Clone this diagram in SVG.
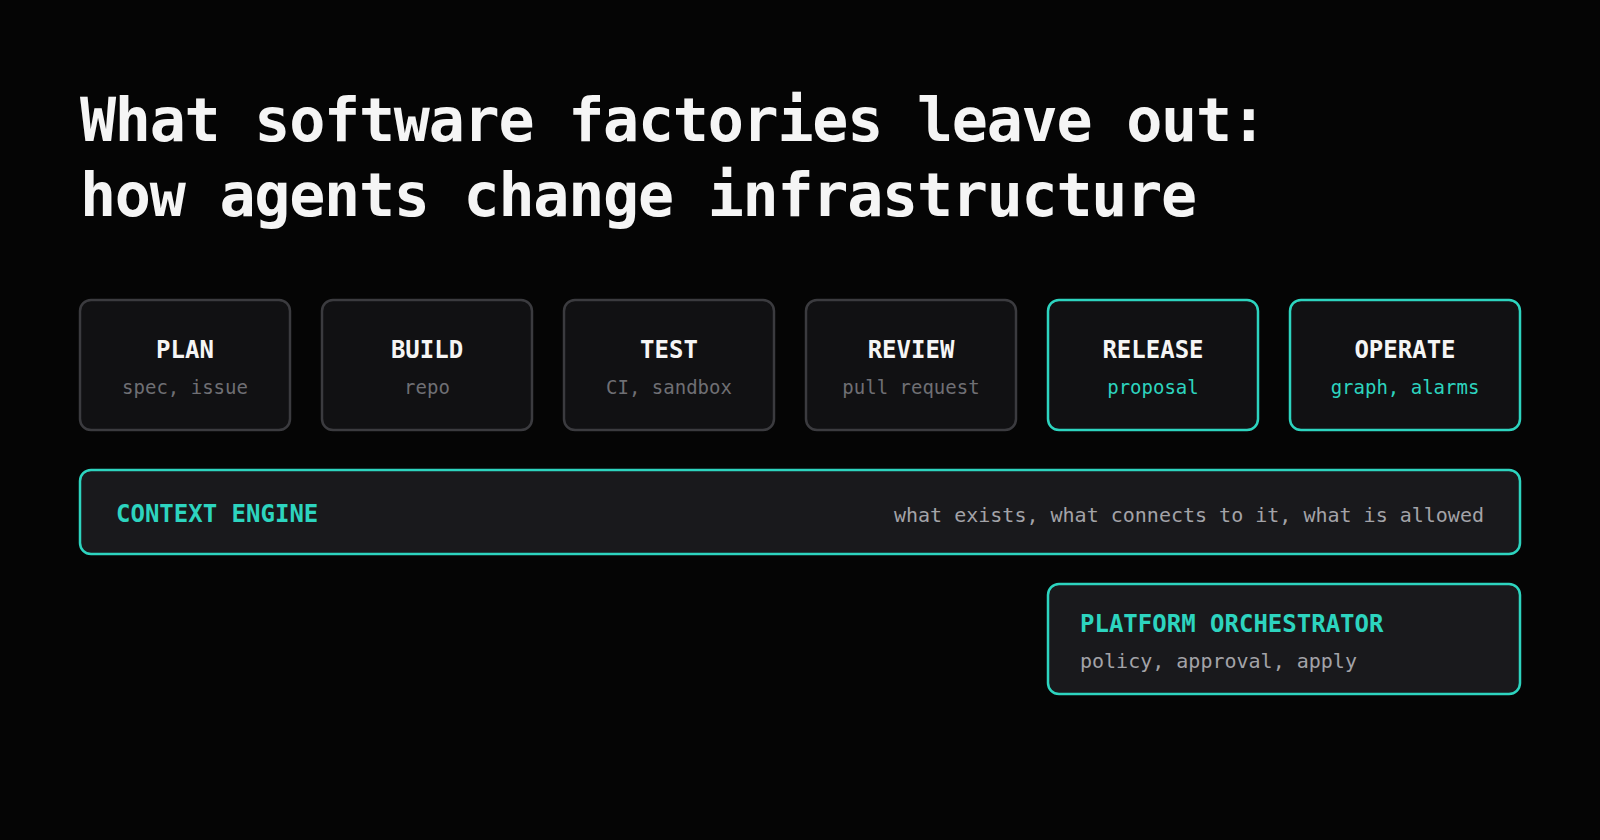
<svg xmlns="http://www.w3.org/2000/svg" width="1600" height="840" viewBox="0 0 1600 840">
<style>
text { font-family: "DejaVu Sans Mono", "Liberation Mono", monospace; }
.title { font-size: 60px; font-weight: bold; fill: #f5f5f5; letter-spacing: -1.25px; }
.box { fill: #111113; stroke: #3b3b3f; stroke-width: 2.5; }
.boxhi { fill: #111113; stroke: #2dd4bf; stroke-width: 2.5; }
.band { fill: #19191c; stroke: #2dd4bf; stroke-width: 2.5; }
.lbl { font-size: 24px; font-weight: bold; fill: #f5f5f5; text-anchor: middle; }
.sub { font-size: 19px; fill: #6f6f74; text-anchor: middle; }
.subhi { font-size: 19px; fill: #2dd4bf; text-anchor: middle; }
.tlbl { font-size: 24px; font-weight: bold; fill: #2dd4bf; }
.desc { font-size: 20px; fill: #a3a3a8; }
</style>
<rect width="1600" height="840" fill="#050505"/>
<g id="title">
<text class="title" x="80" y="141">What software factories leave out:</text>
<text class="title" x="80" y="216">how agents change infrastructure</text>
</g>
<g id="connectors"></g>
<g id="plan">
<rect class="box" x="80" y="300" width="210" height="130" rx="11"/>
<text class="lbl" x="185" y="358">PLAN</text>
<text class="sub" x="185" y="394">spec, issue</text>
</g>
<g id="build">
<rect class="box" x="322" y="300" width="210" height="130" rx="11"/>
<text class="lbl" x="427" y="358">BUILD</text>
<text class="sub" x="427" y="394">repo</text>
</g>
<g id="test">
<rect class="box" x="564" y="300" width="210" height="130" rx="11"/>
<text class="lbl" x="669" y="358">TEST</text>
<text class="sub" x="669" y="394">CI, sandbox</text>
</g>
<g id="review">
<rect class="box" x="806" y="300" width="210" height="130" rx="11"/>
<text class="lbl" x="911" y="358">REVIEW</text>
<text class="sub" x="911" y="394">pull request</text>
</g>
<g id="release">
<rect class="boxhi" x="1048" y="300" width="210" height="130" rx="11"/>
<text class="lbl" x="1153" y="358">RELEASE</text>
<text class="subhi" x="1153" y="394">proposal</text>
</g>
<g id="operate">
<rect class="boxhi" x="1290" y="300" width="230" height="130" rx="11"/>
<text class="lbl" x="1405" y="358">OPERATE</text>
<text class="subhi" x="1405" y="394">graph, alarms</text>
</g>
<g id="context-engine">
<rect class="band" x="80" y="470" width="1440" height="84" rx="11"/>
<text class="tlbl" x="116" y="522">CONTEXT ENGINE</text>
<text class="desc" x="1484" y="522" text-anchor="end">what exists, what connects to it, what is allowed</text>
</g>
<g id="platform-orchestrator">
<rect class="band" x="1048" y="584" width="472" height="110" rx="11"/>
<text class="tlbl" x="1080" y="632">PLATFORM ORCHESTRATOR</text>
<text class="desc" x="1080" y="668">policy, approval, apply</text>
</g>
</svg>
